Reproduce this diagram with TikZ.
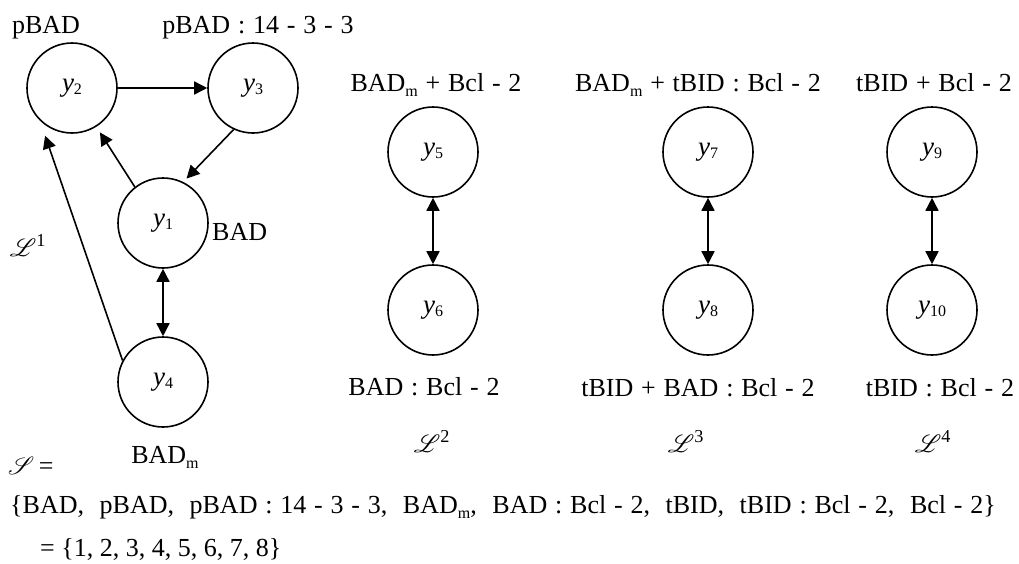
\documentclass[tikz,border=0pt]{standalone}
\usepackage{fontspec}
\usepackage{mathrsfs}
\setmainfont{Liberation Serif}
\usetikzlibrary{arrows.meta,calc}
\newcommand{\sepc}{\hspace{0.3em}:\hspace{0.3em}}
\newcommand{\hy}{\hspace{0.3em}-\hspace{0.3em}}
\newcommand{\pl}{\hspace{0.3em}+\hspace{0.3em}}
\newcommand{\cs}{,\hspace{0.6em}}
\begin{document}
\begin{tikzpicture}[x=1pt,y=-1pt,
  state/.style={circle,draw,line width=1.6pt,minimum size=90pt,inner sep=0pt,font=\fontsize{27}{30}\selectfont},
  lbl/.style={inner sep=0pt,anchor=base,font=\fontsize{26}{30}\selectfont},
  conn/.style={line width=1.6pt,-{Triangle[length=13pt,width=13pt]}},
  dconn/.style={line width=1.6pt,{Triangle[length=13pt,width=13pt]}-{Triangle[length=13pt,width=13pt]}}]
\useasboundingbox (0,0) rectangle (1019,563);
\newcommand{\yy}[1]{\textit{y}\raisebox{-0.25ex}{\fontsize{16}{18}\selectfont #1}}
\newcommand{\sub}[1]{\raisebox{-0.45ex}{\fontsize{16}{18}\selectfont #1}}
% nodes
\node[state] (y2) at (72,88) {\yy{2}};
\node[state] (y3) at (253,88) {\yy{3}};
\node[state] (y1) at (163,223) {\yy{1}};
\node[state] (y4) at (163,382) {\yy{4}};
\node[state] (y5) at (433,152) {\yy{5}};
\node[state] (y6) at (433,310) {\yy{6}};
\node[state] (y7) at (708,152) {\yy{7}};
\node[state] (y8) at (708,310) {\yy{8}};
\node[state] (y9) at (932,152) {\yy{9}};
\node[state] (y10) at (932,310) {\yy{10}};
% connectors
\draw[conn] (y2) -- (y3);
\draw[conn] (y3.245) -- ($(y1.62)+(2,-4)$);
\draw[conn] (y1.128) -- ($(y2.-57)+(3,6)$);
\draw[conn] (y4.152) -- ($(y2.240)+(-4,8)$);
\draw[dconn] (y1) -- (y4);
\draw[dconn] (y5) -- (y6);
\draw[dconn] (y7) -- (y8);
\draw[dconn] (y9) -- (y10);
% labels
\node[lbl] (l2) at (46,33) {pBAD};
\node[lbl] (l3) at (258,33) {pBAD\sepc 14\hy 3\hy 3};
\node[lbl,anchor=base west] (l1) at (212,240) {BAD};
\node[lbl] (L1) at (28,256) {$\mathscr{L}^{\mathrm{1}}$};
\node[lbl] (l4) at (165,463) {BAD\sub{m}};
\node[lbl] (l5) at (436,91) {BAD\sub{m}\pl Bcl\hy 2};
\node[lbl] (l7) at (698,91) {BAD\sub{m}\pl tBID\sepc Bcl\hy 2};
\node[lbl] (l9) at (934,91) {tBID\pl Bcl\hy 2};
\node[lbl] (l6) at (424,395) {BAD\sepc Bcl\hy 2};
\node[lbl] (l8) at (698,396) {tBID\pl BAD\sepc Bcl\hy 2};
\node[lbl] (l10) at (940,396) {tBID\sepc Bcl\hy 2};
\node[lbl] (L2) at (432,452) {$\mathscr{L}^{\mathrm{2}}$};
\node[lbl] (L3) at (686,452) {$\mathscr{L}^{\mathrm{3}}$};
\node[lbl] (L4) at (933,452) {$\mathscr{L}^{\mathrm{4}}$};
\node[lbl,anchor=base west] (S) at (8,474) {$\mathscr{S}$\,=};
\node[lbl,anchor=base west] (set) at (10,513) {\{BAD\cs pBAD\cs pBAD\sepc 14\hy 3\hy 3\cs BAD\sub{m}\cs BAD\sepc Bcl\hy 2\cs tBID\cs tBID\sepc Bcl\hy 2\cs Bcl\hy 2\}};
\node[lbl,anchor=base west] (num) at (40,556) {= \{1,\ 2,\ 3,\ 4,\ 5,\ 6,\ 7,\ 8\}};
\end{tikzpicture}
\end{document}
